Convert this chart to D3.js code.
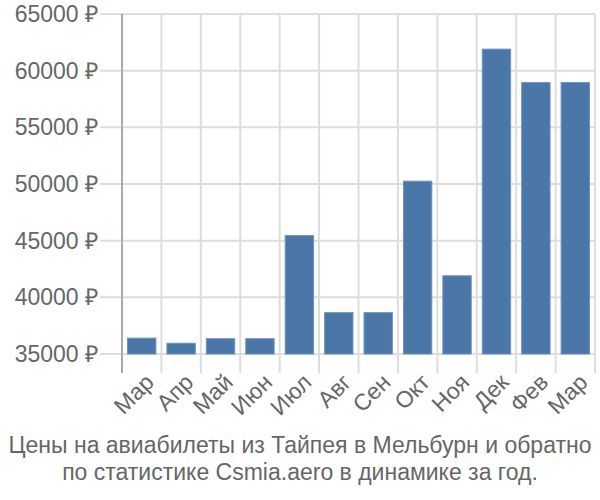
<meta charset="utf-8">
<body style="margin:0">
<svg id="chart" width="600" height="500"></svg>
</body>
<script src="https://d3js.org/d3.v7.min.js"></script>
<script>
var months = ["Мар", "Апр", "Май", "Июн", "Июл", "Авг", "Сен", "Окт", "Ноя", "Дек", "Фев", "Мар"];
var prices = [36400, 35950, 36350, 36350, 45450, 38650, 38650, 50250, 41900, 61900, 58950, 58950];
var yTicks = [35000, 40000, 45000, 50000, 55000, 60000, 65000];
var titleLines = ["Цены на авиабилеты из Тайпея в Мельбурн и обратно", "по статистике Csmia.aero в динамике за год."];

var svg = d3.select("#chart");
var plotLeft = 122, plotRight = 595, plotTop = 14, plotBottom = 354;

var x = d3.scaleBand()
  .domain(d3.range(months.length))
  .range([plotLeft, plotRight])
  .paddingInner(0.28)
  .paddingOuter(0.14);

var y = d3.scaleLinear()
  .domain([35000, 65000])
  .range([plotBottom, plotTop]);

// horizontal grid
svg.append("g").selectAll("line")
  .data(yTicks)
  .enter().append("line")
  .attr("x1", 100).attr("x2", plotRight)
  .attr("y1", function(d) { return y(d); })
  .attr("y2", function(d) { return y(d); })
  .attr("stroke", "#dddddd")
  .attr("stroke-width", 2);

// vertical grid at band edges
var step = x.step();
svg.append("g").selectAll("line")
  .data(d3.range(1, months.length + 1))
  .enter().append("line")
  .attr("x1", function(i) { return plotLeft + i * step; })
  .attr("x2", function(i) { return plotLeft + i * step; })
  .attr("y1", plotTop).attr("y2", plotBottom + 19)
  .attr("stroke", "#dddddd")
  .attr("stroke-width", 2);

// y axis line
svg.append("line")
  .attr("x1", plotLeft).attr("x2", plotLeft)
  .attr("y1", plotTop).attr("y2", plotBottom + 19)
  .attr("stroke", "#aaaaaa")
  .attr("stroke-width", 2);

svg.append("g").selectAll("rect")
  .data(prices)
  .enter().append("rect")
  .attr("x", function(d, i) { return x(i); })
  .attr("width", x.bandwidth())
  .attr("y", function(d) { return y(d); })
  .attr("height", function(d) { return plotBottom - y(d); })
  .attr("fill", "#4a76a8")
  .attr("stroke", "#6f93bb")
  .attr("stroke-width", 1);

svg.append("g").selectAll("text")
  .data(yTicks)
  .enter().append("text")
  .attr("x", 98)
  .attr("y", function(d) { return y(d); })
  .attr("dy", "0.35em")
  .attr("text-anchor", "end")
  .text(function(d) { return d + " ₽"; });

svg.append("g").selectAll("text")
  .data(months)
  .enter().append("text")
  .attr("text-anchor", "end")
  .attr("transform", function(d, i) {
    return "translate(" + (x(i) + x.bandwidth() / 2 + 8) + "," + (plotBottom + 24) + ") rotate(-45)";
  })
  .attr("dy", "0.35em")
  .text(String);

svg.append("g").selectAll("text")
  .data(titleLines)
  .enter().append("text")
  .attr("x", 300)
  .attr("y", function(d, i) { return 453 + i * 27; })
  .attr("text-anchor", "middle")
  .text(String);
</script>
<style>
svg text {
  font-size: 23px;
  font-family: "Liberation Sans", Arial, sans-serif;
  fill: #666666;
}
</style>
